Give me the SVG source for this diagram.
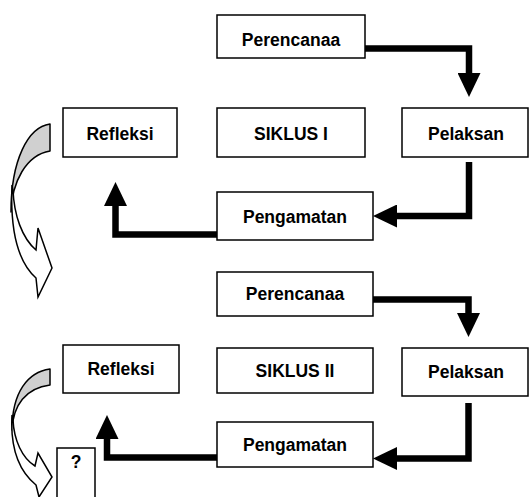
<svg xmlns="http://www.w3.org/2000/svg" width="529" height="497" viewBox="0 0 529 497">
<style>
.box{fill:#fff;stroke:#000;stroke-width:1.5}
.lbl{font-family:"Liberation Sans",Arial,sans-serif;font-weight:bold;font-size:17.5px;text-anchor:middle;fill:#000}
.con{fill:none;stroke:#000;stroke-width:6.5;stroke-linejoin:miter}
.back{fill:#d0d0d0;stroke:#000;stroke-width:1.5;stroke-linejoin:round}
.front{fill:#fff;stroke:#000;stroke-width:1.5;stroke-linejoin:miter}
</style>
<defs>
<marker id="ah" viewBox="0 0 24 23" markerWidth="24" markerHeight="23" markerUnits="userSpaceOnUse" refX="0" refY="11.5" orient="auto">
<path d="M0,0 L24,11.5 L0,23 Z" fill="#000"/>
</marker>
</defs>
<rect width="529" height="497" fill="#fff"/>
<g id="curved-arrow-1">
<path class="back" d="M50,124 C28,127 11,160 11,212 C12,182 26,155 50,151 Z"/>
<path class="front" d="M12,185 C10,230 18,262 36,278 L38,297 L52,268 L38,228 L36,250 C22,238 14,215 13,190 Z"/>
</g>
<g id="curved-arrow-2">
<path class="back" d="M50,369 C28,372 12,392 12,430 C13,405 26,388 50,385 Z"/>
<path class="front" d="M12,415 C10,450 20,472 36,485 L39,497 L52,477 L38,453 L35,466 C22,458 14,440 13,420 Z"/>
</g>
<g id="connectors">
<path class="con" d="M365,48.5 H469 V73" marker-end="url(#ah)"/>
<path class="con" d="M469,162 V216 H397" marker-end="url(#ah)"/>
<path class="con" d="M217,234.5 H115.5 V206" marker-end="url(#ah)"/>
<path class="con" d="M373,299.5 H468.5 V313" marker-end="url(#ah)"/>
<path class="con" d="M468.5,403 V458.5 H397" marker-end="url(#ah)"/>
<path class="con" d="M217,457.5 H107 V439" marker-end="url(#ah)"/>
</g>
<g id="perencanaa-1"><rect class="box" x="217" y="15" width="148" height="43"/><text class="lbl" x="291" y="46">Perencanaa</text></g>
<g id="refleksi-1"><rect class="box" x="63" y="108" width="114" height="49"/><text class="lbl" x="120" y="140">Refleksi</text></g>
<g id="siklus-1"><rect class="box" x="217" y="108" width="148" height="49"/><text class="lbl" x="291" y="140">SIKLUS I</text></g>
<g id="pelaksan-1"><rect class="box" x="402" y="108" width="126" height="49"/><text class="lbl" x="466" y="140">Pelaksan</text></g>
<g id="pengamatan-1"><rect class="box" x="217" y="192" width="156" height="48"/><text class="lbl" x="295" y="223">Pengamatan</text></g>
<g id="perencanaa-2"><rect class="box" x="217" y="272" width="156" height="44"/><text class="lbl" x="295" y="300">Perencanaa</text></g>
<g id="refleksi-2"><rect class="box" x="63" y="345" width="116" height="48"/><text class="lbl" x="121" y="375">Refleksi</text></g>
<g id="siklus-2"><rect class="box" x="217" y="348" width="156" height="45"/><text class="lbl" x="295" y="377">SIKLUS II</text></g>
<g id="pelaksan-2"><rect class="box" x="402" y="348" width="126" height="48"/><text class="lbl" x="466" y="378">Pelaksan</text></g>
<g id="pengamatan-2"><rect class="box" x="217" y="422" width="156" height="45"/><text class="lbl" x="295" y="451">Pengamatan</text></g>
<g id="question"><rect class="box" x="57" y="448" width="38" height="52"/><text class="lbl" x="76" y="468">?</text></g>
</svg>
